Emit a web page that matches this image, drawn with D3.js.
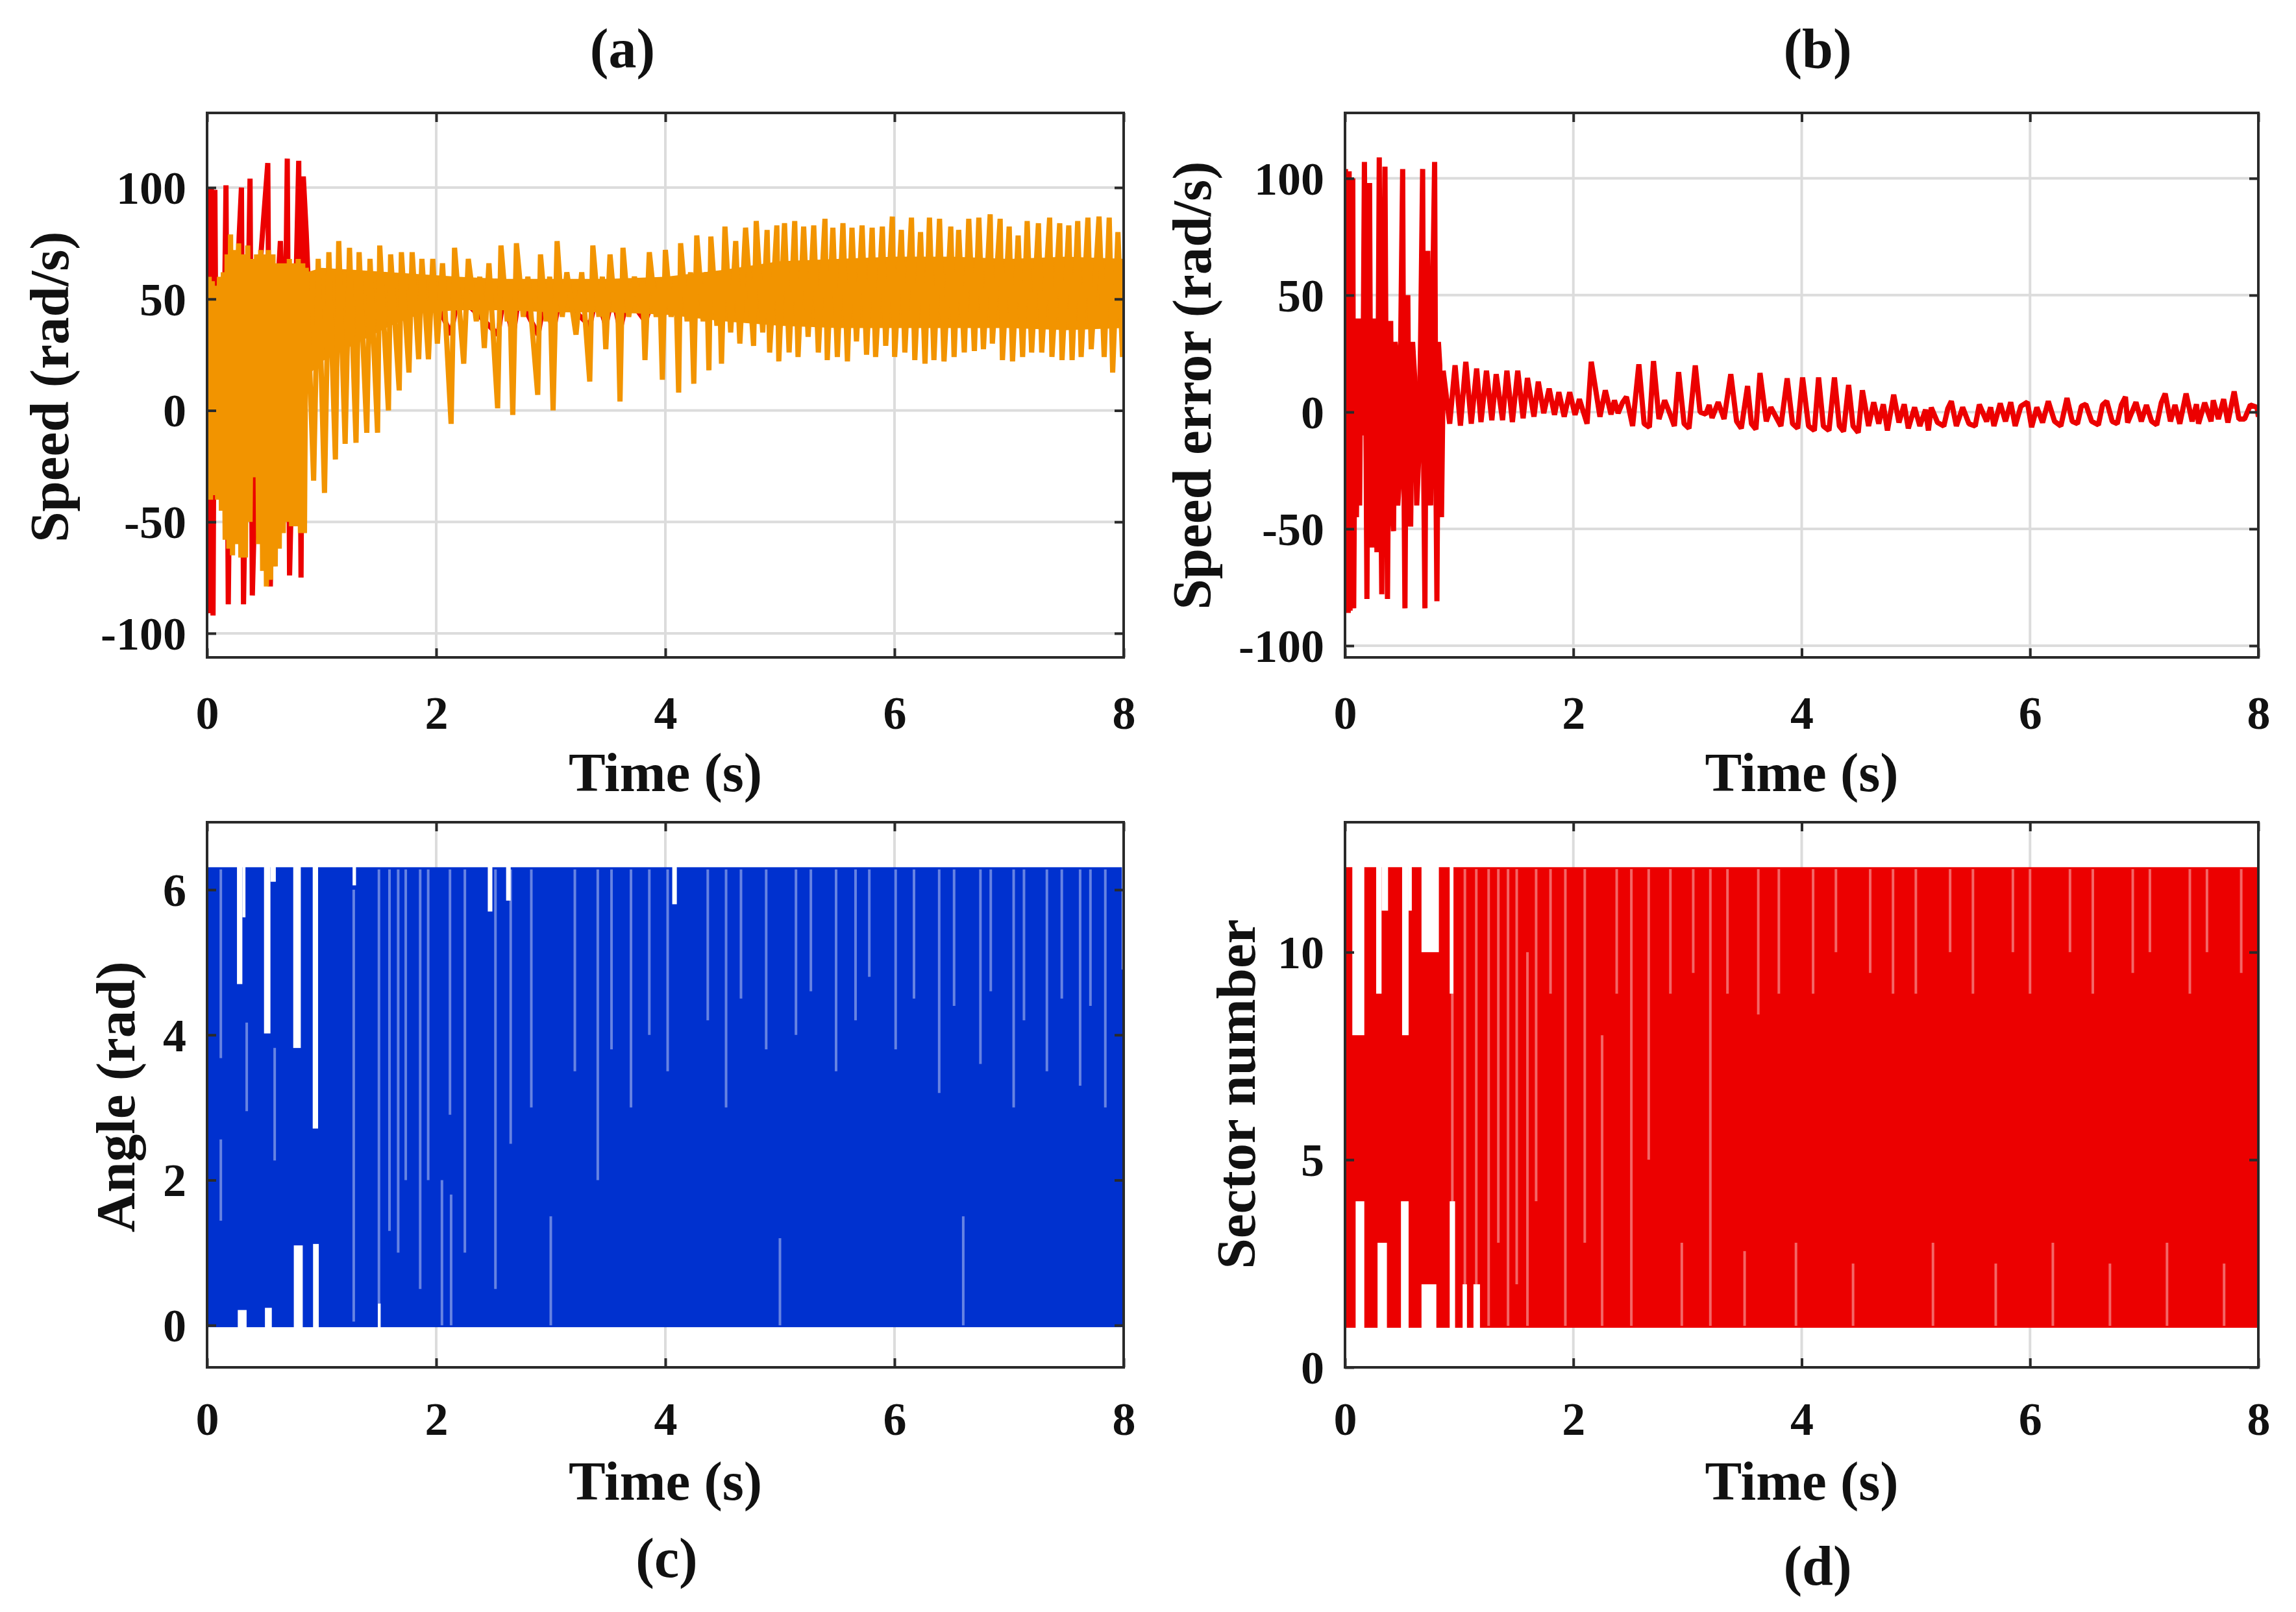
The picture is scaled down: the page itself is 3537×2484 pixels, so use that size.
<!DOCTYPE html>
<html><head><meta charset="utf-8">
<script src="https://cdn.jsdelivr.net/npm/d3@7"></script>
<style>
body{margin:0;background:#fff}
svg{display:block}
text{font-family:"Liberation Serif","Times New Roman",serif;font-weight:bold;fill:#111}
</style>
</head><body>
<svg id="chart" width="3537" height="2484"></svg>
<script>
// ---------------- DATA ----------------
const timeTicks = [0, 2, 4, 6, 8];
const speedTicks = [-100, -50, 0, 50, 100];
const errorTicks = [-100, -50, 0, 50, 100];
const angleTicks = [0, 2, 4, 6];
const sectorTicks = [0, 5, 10];

// (a) red trace [t, rad/s]
const speedRef = [
[0.000,0],[0.008,100],[0.022,-91],[0.038,100],[0.052,-92],[0.068,99],[0.085,-40],[0.110,30],[0.140,-10],
[0.165,101],[0.185,-87],[0.215,60],[0.245,20],[0.280,78],[0.300,100],[0.318,-87],[0.350,20],[0.375,104],
[0.395,-83],[0.430,-12],[0.470,70],[0.530,111],[0.552,-79],[0.600,40],[0.640,76],[0.680,20],[0.700,113],
[0.720,-74],[0.765,30],[0.800,112],[0.820,-75],[0.840,105],[0.865,80],[0.885,55],
[0.930,30],[0.980,48],[1.030,26],[1.080,48],[1.125,28],[1.170,49],[1.210,30],[1.260,49],[1.305,32],[1.350,49],
[1.400,34],[1.440,50],[1.490,36],[1.530,50],[1.585,38],[1.625,50],[1.680,40],[1.720,50],[1.765,42],[1.810,50],
[1.850,44],[1.900,50],[1.940,45],[1.990,50],[2.130,34],[2.190,52],[2.540,34],[2.590,52],[2.670,33],[2.720,51],
[2.890,34],[2.950,52],[3.020,35],[3.080,51],[3.340,38],[3.400,52],[3.480,38],[3.540,52],[3.605,36],[3.670,51],
[3.825,40],[3.900,51],[3.975,41],[4.030,51],[4.120,42],[4.170,51],[4.250,43],[4.300,51],[4.380,44],[4.430,51],
[4.490,45],[4.550,50],[8.000,50]
];

// (a) orange trace [t, rad/s]
const speedActual = [
[0.000,52],[0.008,-8],[0.018,60],[0.030,-40],[0.045,58],[0.060,-38],[0.075,56],[0.092,-40],[0.108,60],[0.125,-45],
[0.142,62],[0.158,-58],[0.175,70],[0.190,-62],[0.205,79],[0.222,-65],[0.238,72],[0.255,-60],[0.275,75],[0.295,-66],
[0.315,70],[0.335,-66],[0.355,74],[0.375,-50],[0.395,68],[0.415,-30],[0.432,70],[0.450,-60],[0.468,72],[0.485,-72],
[0.500,70],[0.518,-79],[0.535,72],[0.555,-76],[0.575,70],[0.595,-70],[0.612,66],[0.630,-62],[0.648,66],[0.665,-55],
[0.685,66],[0.700,-50],[0.718,68],[0.738,-52],[0.758,66],[0.775,-52],[0.795,68],[0.815,-55],[0.835,66],[0.850,-55],
[0.865,64],
[0.930,-31.5],[0.970,68],[1.025,-37],[1.063,71],[1.120,-22],[1.149,76],[1.205,-15],[1.243,73],[1.300,-14.5],[1.327,71],
[1.394,-10],[1.422,68],[1.488,-10],[1.507,74],[1.583,0],[1.602,70],[1.677,9],[1.696,71],[1.762,17],[1.790,71],
[1.847,23],[1.875,68],[1.932,23],[1.970,68],[2.010,30],[2.055,66],[2.130,-6],[2.160,73],
[2.240,21],[2.280,68],[2.350,40],[2.380,60],[2.420,28],[2.460,66],[2.536,1],[2.565,74],[2.620,40],[2.640,58],
[2.668,-2],[2.700,75],[2.760,42],[2.800,60],[2.886,7],[2.910,70],[2.960,40],[2.990,60],[3.020,0],[3.055,76],
[3.100,42],[3.140,62],[3.220,34],[3.270,62],[3.340,13],[3.367,74],[3.420,42],[3.450,60],[3.480,27.5],[3.517,70],
[3.560,45],[3.580,58],[3.604,4],[3.630,73],[3.680,42],[3.730,60],[3.780,44],[3.800,58],[3.822,22.6],[3.860,71],
[3.920,42],[3.950,58],[3.974,13.8],[4.000,72],[4.050,42],[4.090,60],[4.116,8],[4.133,75],[4.190,40],[4.220,62],
[4.248,12],[4.274,78.5],[4.330,40],[4.360,62],[4.380,18],[4.397,78],[4.450,38],[4.470,62],[4.490,21],[4.520,82.5],
[4.570,35],[4.614,76],[4.650,30],[4.700,82],[4.770,29],[4.793,85],[4.850,35],[4.888,81],[4.910,26],[4.973,83],
[4.990,22],[5.040,84],[5.080,26],[5.129,85],[5.158,24],[5.207,82.5],[5.246,33],[5.295,83],[5.335,26],[5.393,86],
[5.413,22.6],[5.462,82],[5.501,24],[5.550,84],[5.589,22],[5.629,82],[5.668,31],[5.717,83],[5.756,25],[5.805,82],
[5.835,24],[5.894,82.5],[5.923,29],[5.981,87],[6.001,24],[6.060,81],[6.090,26],[6.148,86.5],[6.177,22.6],[6.227,80],
[6.266,21],[6.305,86.5],[6.344,22.6],[6.393,86],[6.432,22],[6.491,82.5],[6.520,24],[6.560,81],[6.609,26],[6.648,86],
[6.697,26.7],[6.736,86.5],[6.776,27.5],[6.835,88],[6.854,30],[6.922,86],[6.942,22.6],[7.001,82.5],[7.030,22],[7.079,78.5],
[7.118,24],[7.158,85],[7.197,26],[7.256,84],[7.285,26],[7.354,86.5],[7.374,24],[7.442,84],[7.462,22.6],[7.521,83],
[7.550,22.6],[7.599,85],[7.629,24],[7.688,86.5],[7.717,27.5],[7.785,87],[7.830,24],[7.874,86.5],[7.904,17],[7.950,80],
[7.990,24],[8.000,55]
];

// (a) dense core band of the orange trace [t, low, high]
const speedCore = [
[0.87,15,62],[1.0,22,64],[1.3,30,63],[1.6,38,62],[1.9,44,61],[2.2,45,60],[2.6,45,59],[3.0,44,59],[3.5,44,59],
[4.0,43,60],[4.5,40,63],[5.0,38,67],[5.5,37,68],[6.0,37,69],[6.5,37,69],[7.0,37,68],[7.5,36,69],[8.0,37,68]
];

// (b) speed error [t, rad/s]
const speedError = [
[0.000,10],[0.004,104],[0.012,-86],[0.020,100],[0.028,-86],[0.036,103],[0.044,-85],[0.052,100],[0.060,-84],[0.068,100],
[0.076,-84],[0.090,30],[0.100,-45],[0.115,40],[0.128,-40],[0.140,40],[0.155,-10],[0.170,107],[0.192,-80],[0.205,40],
[0.215,98],[0.225,-20],[0.235,-58],[0.248,30],[0.260,40],[0.270,-30],[0.280,-60],[0.290,20],[0.300,109],[0.312,-20],
[0.322,-78],[0.336,40],[0.350,105],[0.362,-10],[0.372,-80],[0.386,20],[0.400,39],[0.412,-40],[0.425,-51],[0.438,30],
[0.450,25],[0.462,-40],[0.475,-30],[0.490,40],[0.505,104],[0.515,-20],[0.525,-84],[0.538,30],[0.550,50],[0.562,-30],
[0.575,-49],[0.592,30],[0.610,15],[0.628,-40],[0.645,-20],[0.662,30],[0.680,104],[0.690,-30],[0.700,-84],[0.712,40],
[0.725,69],[0.738,-10],[0.750,-40],[0.768,50],[0.785,107],[0.795,-20],[0.805,-81],[0.818,30],[0.830,20],[0.838,-30],
[0.845,-45],
[0.860,17.7],[0.917,-5],[0.964,20],[1.011,-5.8],[1.058,21.5],[1.106,-5],[1.153,18.6],[1.191,-4.3],[1.239,17.7],[1.286,-3.5],
[1.324,16.2],[1.380,-3.5],[1.418,17.7],[1.466,-4.3],[1.513,17.7],[1.560,-2.7],[1.598,14.6],[1.655,-2],[1.693,13],[1.741,-0.5],
[1.788,10],[1.835,-1.2],[1.873,8.5],[1.920,-2],[1.968,8.5],[2.015,-1.2],[2.053,5.5],[2.120,-5],[2.157,21.5],[2.233,-2],
[2.280,9.3],[2.330,-1],[2.360,5],[2.392,-0.5],[2.430,4],[2.465,6.5],[2.519,-6],[2.574,20.4],[2.620,-5],[2.666,-6.5],
[2.702,21.8],[2.750,-3],[2.800,5],[2.840,0],[2.885,-6],[2.922,17.1],[2.970,-5],[3.013,-7],[3.068,19.9],[3.110,0],
[3.160,-0.9],[3.190,3],[3.215,-2.5],[3.269,4.2],[3.320,-3],[3.379,16.2],[3.430,-4],[3.471,-7],[3.526,11.1],[3.560,-5],
[3.599,-7.4],[3.635,16.7],[3.690,-4],[3.730,2],[3.818,-6],[3.873,14.4],[3.920,-5],[3.965,-7],[4.008,14.8],[4.060,-6],
[4.111,-7.9],[4.148,14.8],[4.190,-6],[4.239,-7.9],[4.287,14.8],[4.330,-6],[4.367,-8.3],[4.411,11.6],[4.450,-6],[4.495,-8.8],
[4.532,9.3],[4.586,-6],[4.631,4.2],[4.675,-5],[4.715,3.3],[4.751,-7.9],[4.806,7.4],[4.852,-4.5],[4.898,3.3],[4.934,-7],
[4.989,2],[5.035,-6],[5.085,1],[5.110,-7.9],[5.135,1.9],[5.190,-4.5],[5.245,-6],[5.280,1.5],[5.311,4.6],[5.355,-6],
[5.410,2],[5.465,-5],[5.520,-6],[5.556,3.2],[5.620,-4],[5.655,2],[5.684,-6],[5.739,3.7],[5.785,-4],[5.831,4.2],
[5.870,-6],[5.920,2.5],[5.977,4.2],[6.014,-6.5],[6.060,2],[6.110,-4.5],[6.160,4.6],[6.215,-4],[6.270,-6],[6.324,6],
[6.370,-4],[6.416,-5],[6.450,2.5],[6.489,3.3],[6.540,-4],[6.599,-5.5],[6.635,3],[6.672,4.6],[6.720,-4],[6.764,-5],
[6.800,3],[6.836,6.5],[6.855,-4.5],[6.928,4.2],[6.975,-4],[7.020,3],[7.065,-4],[7.110,-5.5],[7.150,4],[7.184,7.9],
[7.230,-4],[7.270,3],[7.312,-5],[7.367,7.9],[7.420,-4],[7.458,3.3],[7.476,-5],[7.530,4],[7.586,-4],[7.605,5],
[7.650,-3],[7.696,5.5],[7.733,-4.5],[7.788,8.8],[7.830,-3],[7.879,-3],[7.930,3],[7.989,2],[8.000,-2]
];

// (c) angle: dense sawtooth between 0 and 2*pi over the whole run
const angleSpan = [0, 8];
const angleLimits = [0, 6.283];
// white gaps [t0, t1, low, high]
const angleGaps = [
[0.261,0.308,4.70,6.40],[0.308,0.335,5.62,6.40],[0.268,0.345,-0.1,0.21],
[0.497,0.553,4.02,6.40],[0.553,0.600,6.11,6.40],[0.505,0.565,-0.1,0.24],
[0.752,0.818,3.82,6.40],[0.757,0.835,-0.1,1.10],
[0.922,0.969,2.71,6.40],[0.925,0.975,-0.1,1.12],
[1.270,1.300,6.06,6.40],[1.490,1.515,-0.1,0.30],
[2.450,2.490,5.70,6.40],[2.610,2.650,5.85,6.40],[4.060,4.100,5.80,6.40],[7.985,8.000,4.90,6.40]
];
// light streaks [t, low, high]
const angleStreaks = [
[0.12,3.68,6.28],[0.12,1.44,2.56],[0.346,2.95,4.17],[0.59,2.27,3.82],[1.28,0.05,6.0],[1.50,0.3,6.28],
[1.592,1.3,6.28],[1.668,1.0,6.28],[1.734,2.0,6.28],[1.86,0.5,6.28],[1.93,2.0,6.28],[2.05,0.0,2.0],[2.12,2.9,6.28],
[2.13,0.0,1.8],[2.25,1.0,6.28],[2.517,0.5,6.28],[2.65,2.5,6.28],[2.83,3.0,6.28],[3.0,0.0,1.5],[3.21,3.5,6.28],
[3.41,2.0,6.28],[3.53,3.8,6.28],[3.70,3.0,6.28],[3.86,4.0,6.28],[4.02,3.5,6.28],[4.37,4.2,6.28],[4.53,3.0,6.28],
[4.66,4.5,6.28],[4.88,3.8,6.28],[5.0,0.0,1.2],[5.14,4.0,6.28],[5.27,4.6,6.28],[5.49,3.5,6.28],[5.66,4.2,6.28],
[5.78,4.8,6.28],[6.01,3.8,6.28],[6.17,4.5,6.28],[6.39,3.2,6.28],[6.52,4.4,6.28],[6.6,0.0,1.5],[6.75,3.6,6.28],
[6.84,4.6,6.28],[7.04,3.0,6.28],[7.13,4.2,6.28],[7.33,3.5,6.28],[7.46,4.5,6.28],[7.62,3.3,6.28],[7.71,4.4,6.28],
[7.84,3.0,6.28]
];

// (d) sector number: dense staircase between 1 and 12
const sectorSpan = [0, 8];
const sectorLimits = [1, 12];
const sectorGaps = [
[0.064,0.169,8.0,12.3],[0.093,0.169,0.7,4.0],
[0.273,0.320,9.0,12.3],[0.320,0.377,11.0,12.3],[0.285,0.367,0.7,3.0],
[0.500,0.557,8.0,12.3],[0.557,0.585,11.0,12.3],[0.490,0.557,0.7,4.0],
[0.670,0.822,10.0,12.3],[0.670,0.800,0.7,2.0],
[0.917,0.964,0.7,4.0],[0.917,0.950,9.0,12.3],
[1.030,1.068,0.7,2.0],[1.125,1.182,0.7,2.0]
];
const sectorStreaks = [
[0.94,4.0,9.0],[1.05,2.0,12],[1.15,2.0,12],[1.258,1,12],[1.343,3,12],[1.428,1,12],[1.504,2,12],[1.598,1,10],
[1.674,4,12],[1.80,9,12],[1.93,1,12],[2.1,3,12],[2.252,1,8],[2.38,9,12],[2.508,1,12],[2.66,5,12],[2.85,9,12],
[2.95,1,3],[3.05,9.5,12],[3.2,1,12],[3.35,9,12],[3.5,1,2.8],[3.62,8.5,12],[3.8,9,12],[3.95,1,3],[4.1,9,12],
[4.3,10,12],[4.45,1,2.5],[4.6,9.5,12],[4.8,9,12],[5.0,9,12],[5.15,1,3],[5.3,10,12],[5.5,9,12],[5.7,1,2.5],
[5.85,10,12],[6.0,9,12],[6.2,1,3],[6.35,10,12],[6.55,9,12],[6.7,1,2.5],[6.9,9.5,12],[7.05,10,12],[7.2,1,3],
[7.4,9,12],[7.55,10,12],[7.7,1,2.5],[7.85,9.5,12]
];

// ---------------- DRAWING ----------------
const svg = d3.select("#chart");
const ORANGE = "#F29400", RED = "#EC0000", BLUE = "#0031CF";
const GRID = "#dcdcdc", AXIS = "#2a2a2a";
const TICK_LEN = 14;

function panel(cfg) {
  const g = svg.append("g");
  const x = d3.scaleLinear().domain([0, 8]).range([cfg.x0, cfg.x1]);
  const y = d3.scaleLinear().domain(cfg.ydom).range([cfg.y1, cfg.y0]);

  g.append("g").selectAll("line").data(timeTicks).join("line")
    .attr("x1", d => x(d)).attr("x2", d => x(d)).attr("y1", cfg.y0).attr("y2", cfg.y1)
    .attr("stroke", GRID).attr("stroke-width", 4);
  g.append("g").selectAll("line").data(cfg.yticks).join("line")
    .attr("y1", d => y(d)).attr("y2", d => y(d)).attr("x1", cfg.x0).attr("x2", cfg.x1)
    .attr("stroke", GRID).attr("stroke-width", 4);

  const clipId = "clip-" + cfg.id;
  svg.append("clipPath").attr("id", clipId).append("rect")
    .attr("x", cfg.x0 + 2).attr("y", cfg.y0 + 2)
    .attr("width", cfg.x1 - cfg.x0 - 4).attr("height", cfg.y1 - cfg.y0 - 4);
  const plot = g.append("g").attr("clip-path", `url(#${clipId})`);
  cfg.draw(plot, x, y);

  const fmt = d => String(d);
  const bottom = g.append("g").attr("transform", `translate(0,${cfg.y1})`)
    .call(d3.axisBottom(x).tickValues(timeTicks).tickSize(-TICK_LEN).tickFormat(fmt));
  bottom.selectAll("text").attr("y", cfg.xLabelOffset).attr("dy", 0);
  const left = g.append("g").attr("transform", `translate(${cfg.x0},0)`)
    .call(d3.axisLeft(y).tickValues(cfg.yticks).tickSize(-TICK_LEN).tickFormat(fmt));
  left.selectAll("text").attr("x", -32).attr("dy", "0.34em");
  g.append("g").attr("transform", `translate(0,${cfg.y0})`)
    .call(d3.axisTop(x).tickValues(timeTicks).tickSize(-TICK_LEN).tickFormat(() => ""));
  g.append("g").attr("transform", `translate(${cfg.x1},0)`)
    .call(d3.axisRight(y).tickValues(cfg.yticks).tickSize(-TICK_LEN).tickFormat(() => ""));
  g.selectAll(".domain").remove();
  g.selectAll(".tick line").attr("stroke", AXIS).attr("stroke-width", 4);
  g.selectAll(".tick text").attr("font-size", 72).attr("fill", "#111")
    .style("font-family", "'Liberation Serif','Times New Roman',serif").style("font-weight", "bold");

  g.append("rect").attr("x", cfg.x0).attr("y", cfg.y0)
    .attr("width", cfg.x1 - cfg.x0).attr("height", cfg.y1 - cfg.y0)
    .attr("fill", "none").attr("stroke", AXIS).attr("stroke-width", 4);

  g.append("text").attr("x", (cfg.x0 + cfg.x1) / 2).attr("y", cfg.xTitleY)
    .attr("text-anchor", "middle").attr("font-size", 85).text("Time (s)");
  g.append("text").attr("transform", `translate(${cfg.yTitleX},${cfg.yTitleY}) rotate(-90)`)
    .attr("text-anchor", "middle").attr("font-size", 85).text(cfg.ylabel);
  g.append("text").attr("x", cfg.tagX).attr("y", cfg.tagY)
    .attr("text-anchor", "middle").attr("font-size", 86).text(cfg.tag);
}

const line = (x, y) => d3.line().x(d => x(d[0])).y(d => y(d[1]));

function drawBand(plot, x, y, span, limits, color, gaps, streaks) {
  plot.append("rect")
    .attr("x", x(span[0])).attr("width", x(span[1]) - x(span[0]))
    .attr("y", y(limits[1])).attr("height", y(limits[0]) - y(limits[1]))
    .attr("fill", color).attr("stroke", color).attr("stroke-width", 6);
  plot.append("g").selectAll("line").data(streaks).join("line")
    .attr("x1", d => x(d[0])).attr("x2", d => x(d[0]))
    .attr("y1", d => y(d[1])).attr("y2", d => y(d[2]))
    .attr("stroke", "#fff").attr("stroke-opacity", 0.4).attr("stroke-width", 4);
  plot.append("g").selectAll("rect").data(gaps).join("rect")
    .attr("x", d => x(d[0])).attr("width", d => x(d[1]) - x(d[0]))
    .attr("y", d => y(d[3])).attr("height", d => y(d[2]) - y(d[3]))
    .attr("fill", "#fff");
}

panel({
  id: "a", x0: 319, x1: 1731, y0: 174, y1: 1013, ydom: [-110.8, 133.5], yticks: speedTicks,
  xLabelOffset: 110, xTitleY: 1219, yTitleX: 105, yTitleY: 596, ylabel: "Speed (rad/s)",
  tag: "(a)", tagX: 959, tagY: 104,
  draw: (plot, x, y) => {
    plot.append("path").datum(speedRef).attr("d", line(x, y)).attr("fill", "none")
      .attr("stroke", RED).attr("stroke-width", 8).attr("stroke-linejoin", "bevel");
    plot.append("path").datum(speedCore)
      .attr("d", d3.area().x(d => x(d[0])).y0(d => y(d[1])).y1(d => y(d[2])))
      .attr("fill", ORANGE);
    plot.append("path").datum(speedActual).attr("d", line(x, y)).attr("fill", "none")
      .attr("stroke", ORANGE).attr("stroke-width", 8).attr("stroke-linejoin", "bevel");
  }
});

panel({
  id: "b", x0: 2072, x1: 3479, y0: 174, y1: 1013, ydom: [-105, 128], yticks: errorTicks,
  xLabelOffset: 110, xTitleY: 1219, yTitleX: 1865, yTitleY: 594, ylabel: "Speed error (rad/s)",
  tag: "(b)", tagX: 2800, tagY: 104,
  draw: (plot, x, y) => {
    plot.append("path").datum(speedError).attr("d", line(x, y)).attr("fill", "none")
      .attr("stroke", RED).attr("stroke-width", 8).attr("stroke-linejoin", "bevel");
  }
});

panel({
  id: "c", x0: 319, x1: 1731, y0: 1267, y1: 2107, ydom: [-0.58, 6.93], yticks: angleTicks,
  xLabelOffset: 104, xTitleY: 2311, yTitleX: 207, yTitleY: 1690, ylabel: "Angle (rad)",
  tag: "(c)", tagX: 1027, tagY: 2430,
  draw: (plot, x, y) => drawBand(plot, x, y, angleSpan, angleLimits, BLUE, angleGaps, angleStreaks)
});

panel({
  id: "d", x0: 2072, x1: 3479, y0: 1267, y1: 2107, ydom: [0, 13.13], yticks: sectorTicks,
  xLabelOffset: 104, xTitleY: 2311, yTitleX: 1933, yTitleY: 1686, ylabel: "Sector number",
  tag: "(d)", tagX: 2800, tagY: 2442,
  draw: (plot, x, y) => drawBand(plot, x, y, sectorSpan, sectorLimits, RED, sectorGaps, sectorStreaks)
});
</script>
</body></html>
